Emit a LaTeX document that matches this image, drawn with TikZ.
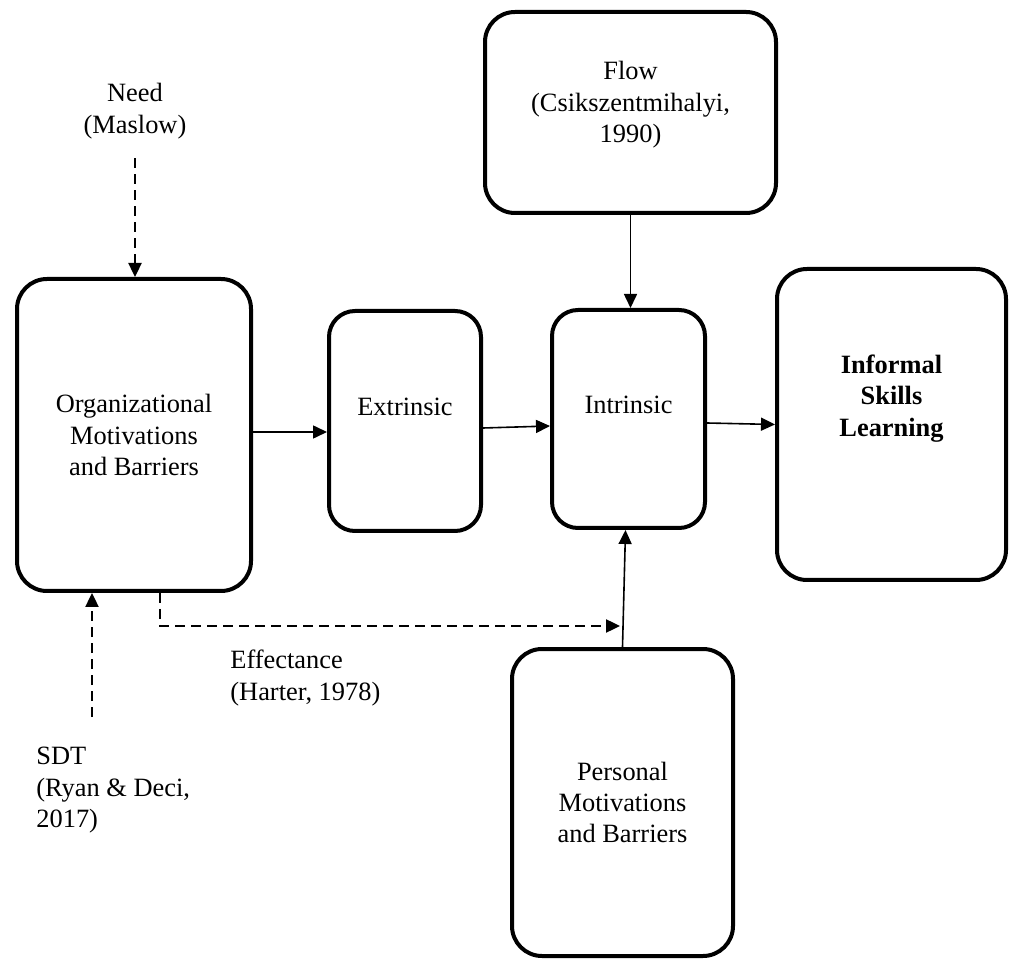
\documentclass[tikz,border=0pt]{standalone}
\usepackage{fontspec}
\setmainfont{Liberation Serif}
\usetikzlibrary{arrows.meta,positioning}

\begin{document}
\begin{tikzpicture}[
    x=0.5pt,y=-0.5pt,
    font=\fontsize{13.2}{15.7}\selectfont,
    block/.style={draw,line width=2pt,rounded corners=15pt,align=center,inner sep=0pt},
    lbl/.style={inner sep=0pt},
    arr/.style={-{Triangle[length=7pt,width=6.5pt]},line width=0.8pt},
    dasharr/.style={arr,line width=1.2pt,dash pattern=on 5pt off 3pt}
    ]

    \useasboundingbox (0,0) rectangle (1011,961);

    \node (org) [block,minimum width=117pt,minimum height=156pt] at (134,435)
      {Organizational\\Motivations\\and Barriers};
    \node (extr) [block,rounded corners=13pt,minimum width=76pt,minimum height=110pt,text depth=14pt] at (405,421) {Extrinsic};
    \node (intr) [block,rounded corners=13pt,minimum width=76.5pt,minimum height=109pt,text depth=14pt] at (628.5,419) {Intrinsic};
    \node (inf) [block,minimum width=114.5pt,minimum height=155.5pt,text height=14.5pt] at (891.5,424.5)
      {\textbf{Informal}\\\textbf{Skills}\\\textbf{Learning}};
    \node (flow) [block,minimum width=145.5pt,minimum height=100.5pt,text depth=10.5pt] at (630.5,112.5)
      {Flow\\(Csikszentmihalyi,\\1990)};
    \node (pers) [block,minimum width=110.5pt,minimum height=153.5pt] at (622.5,802.5)
      {Personal\\Motivations\\and Barriers};

    \node (need) [lbl,anchor=north,align=center] at (135,83) {Need\\(Maslow)};
    \node (sdt) [lbl,anchor=north west,align=left] at (36,747) {SDT\\(Ryan \& Deci,\\2017)};
    \node (efflbl) [lbl,anchor=north west,align=left] at (230,650) {Effectance\\(Harter, 1978)};

    \coordinate (effend) at (620,626);
    \coordinate (sdtend) at (92,717);

    % main chain
    \draw[arr] ([yshift=1.5pt]org.east) -- ([yshift=1.5pt]org.east -| extr.west);
    \draw[arr] ([yshift=-3.5pt]extr.east) -- ([yshift=-3.5pt]intr.west);
    \draw[arr] ([yshift=-2pt]intr.east) -- (inf.west);

    % into intrinsic
    \draw[arr] (flow.south) -- (flow.south |- intr.north);
    \draw[arr] (pers.north) -- ([xshift=-1.5pt]intr.south);

    % theories
    \draw[dasharr,shorten <=9.5pt] (need.south) -- (need.south |- org.north);
    \draw[dasharr] (sdtend) -- (sdtend |- org.south);
    \draw[dasharr] ([xshift=13pt]org.south) |- (effend);

\end{tikzpicture}
\end{document}
